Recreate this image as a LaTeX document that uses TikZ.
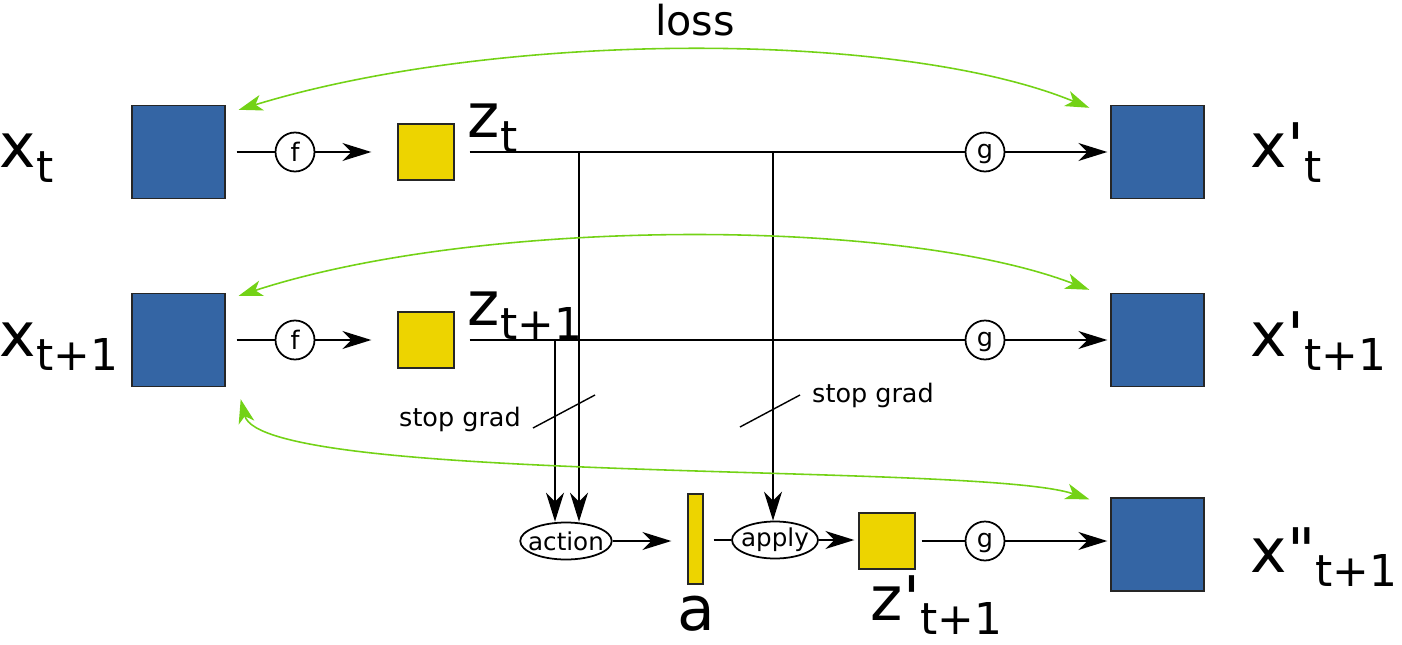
\documentclass[tikz,border=0pt]{standalone}
\usepackage{fontspec}
\setmainfont{DejaVu Sans}
\usetikzlibrary{arrows.meta,shapes.geometric}
\definecolor{imgblue}{HTML}{3465A4}
\definecolor{codeyellow}{HTML}{EDD400}
\definecolor{lossgreen}{HTML}{73D216}
\newcommand{\varlbl}[2]{{\fontsize{35}{35}\selectfont #1}\raisebox{-8pt}{\fontsize{25}{25}\selectfont #2}}
\newcommand{\pr}{\textquotesingle}

\begin{document}
\begin{tikzpicture}[x=0.02cm,y=-0.02cm,line width=1pt,
        >={Stealth[length=5.8mm,width=3.6mm,inset=1.8mm]},
        img/.style={draw=black!85,fill=imgblue,minimum size=1.86cm,inner sep=0pt,line width=0.8pt},
        code/.style={draw=black!85,fill=codeyellow,minimum size=1.12cm,inner sep=0pt,line width=0.8pt},
        fn/.style={draw,circle,minimum size=0.78cm,inner sep=0pt,font=\fontsize{14.5}{15}\selectfont},
        gfn/.style={fn,text height=1.5ex,text depth=0.2ex},
        op/.style={draw,ellipse,minimum width=1.72cm,minimum height=0.74cm,inner xsep=-0.11cm,inner ysep=0pt,font=\fontsize{14}{15}\selectfont},
        lbl/.style={anchor=base west,inner sep=0pt},
        lossarc/.style={{Stealth[length=4.8mm,width=3.2mm,inset=1.3mm]}-{Stealth[length=4.8mm,width=3.2mm,inset=1.3mm]},draw=lossgreen,line width=0.9pt}]
    \useasboundingbox (0,0) rectangle (1402,645);

    % images and codes
    \node[img] (xt) at (178.5,152) {};
    \node[img] (xt1) at (178.5,340) {};
    \node[img] (xpt) at (1157.5,152) {};
    \node[img] (xpt1) at (1157.5,340) {};
    \node[img] (xpp) at (1157.5,544.5) {};
    \node[code] (zt) at (426,152) {};
    \node[code] (zt1) at (426,340) {};
    \node[code] (zp) at (887,541) {};
    \node[draw=black!85,fill=codeyellow,minimum width=0.3cm,minimum height=1.8cm,inner sep=0pt,line width=0.8pt] (av) at (695.5,539) {};

    \node[lbl] (lxt) at (-1,168) {\varlbl{x}{t}};
    \node[lbl] (lxt1) at (-1,356) {\varlbl{x}{t+1}};
    \node[lbl] (lzt) at (467,138) {\varlbl{z}{t}};
    \node[lbl] (lzt1) at (467,325) {\varlbl{z}{t+1}};
    \node[lbl] (lxpt) at (1250,168) {\varlbl{x\pr}{t}};
    \node[lbl] (lxpt1) at (1250,356) {\varlbl{x\pr}{t+1}};
    \node[lbl] (lxpp) at (1250,572) {\varlbl{x\textquotedbl}{t+1}};
    \node[anchor=base,inner sep=0pt] (la) at (696,630) {\fontsize{35}{35}\selectfont a};
    \node[lbl] (lzp) at (870,620) {\varlbl{z\pr}{t+1}};

    % functions
    \node[fn] (f1) at (295,152) {f};
    \node[fn] (f2) at (295,340) {f};
    \node[gfn] (g1) at (985,152) {g};
    \node[gfn] (g2) at (985,340) {g};
    \node[gfn] (g3) at (985,541) {g};
    \node[op] (action) at (566,541) {action};
    \node[op] (apply) at (775,540) {apply};

    \draw[shorten <=0.22cm] (xt) -- (f1);
    \draw[->,shorten >=0.52cm] (f1) -- (zt);
    \draw[shorten <=0.3cm] (zt) -- (g1);
    \draw[->,shorten >=0.06cm] (g1) -- (xpt);

    \draw[shorten <=0.22cm] (xt1) -- (f2);
    \draw[->,shorten >=0.52cm] (f2) -- (zt1);
    \draw[shorten <=0.3cm] (zt1) -- (g2);
    \draw[->,shorten >=0.06cm] (g2) -- (xpt1);

    \draw[->,shorten >=0.32cm] (action) -- (action -| av.west);
    \draw[shorten <=0.2cm] (av.east |- apply) -- (apply);
    \draw[->,shorten >=0.08cm] (apply) -- (apply -| zp.west);
    \draw[shorten <=0.12cm] (zp) -- (g3);
    \draw[->,shorten >=0.06cm] (g3) -- (g3 -| xpp.west);

    % stop grad
    \coordinate (tap1) at (579,152);
    \coordinate (tap2) at (555,340);
    \coordinate (tap3) at (773,152);
    \draw[->] (tap1) -- (tap1 |- action.north);
    \draw[->] (tap2) -- (tap2 |- action.north);
    \draw[->] (tap3) -- (tap3 |- apply.north);
    \draw[line width=0.8pt] (533,428) -- (595,395);
    \draw[line width=0.8pt] (740,427) -- (800,395);
    \node[font=\fontsize{14.5}{15}\selectfont] (sg1) at (460,419) {stop grad};
    \node[font=\fontsize{14.5}{15}\selectfont] (sg2) at (873,395) {stop grad};

    % loss
    \draw[lossarc] ([shift={(13,5)}]xt.north east) .. controls (500,30) and (900,30) .. ([shift={(-21,3)}]xpt.north west);
    \draw[lossarc] ([shift={(13,3)}]xt1.north east) .. controls (480,217) and (900,217) .. ([shift={(-21,-3)}]xpt1.north west);
    \draw[lossarc] ([shift={(15,12)}]xt1.south east) .. controls (262,485) and (980,462) .. ([shift={(-21,2)}]xpp.north west);
    \node[font=\fontsize{23.5}{24}\selectfont] (loss) at (695,20) {loss};
\end{tikzpicture}
\end{document}
